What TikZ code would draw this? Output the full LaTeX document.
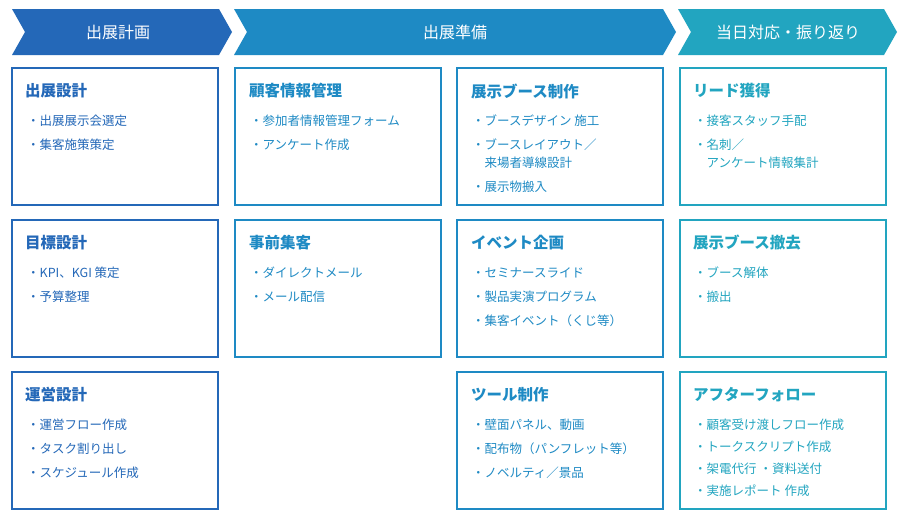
\documentclass[tikz,border=0pt]{standalone}
\usepackage{fontspec}
\setmainfont{Noto Sans CJK JP}
\begin{document}
\begin{tikzpicture}[x=1pt,y=-1pt,
  box/.style={draw=#1,line width=1.6pt},
  ttl/.style={anchor=west,text=#1,font=\bfseries\fontsize{15.5}{18}\selectfont,inner sep=0},
  itm/.style={anchor=west,text=#1,font=\fontsize{12.5}{15}\selectfont,inner sep=0},
  hd/.style={text=white,font=\fontsize{16}{19}\selectfont}]
\definecolor{ca}{HTML}{2468B8}
\definecolor{cb}{HTML}{1E8AC4}
\definecolor{cc}{HTML}{22A5C0}
\useasboundingbox[fill=white] (0,0) rectangle (900,522);
% headers
\fill[ca] (12,9) -- (219,9) -- (232,32) -- (219,55) -- (12,55) -- (25,32) -- cycle;
\fill[cb] (234,9) -- (663,9) -- (676,32) -- (663,55) -- (234,55) -- (247,32) -- cycle;
\fill[cc] (678,9) -- (884,9) -- (897,32) -- (884,55) -- (678,55) -- (691,32) -- cycle;
\node[hd] (h1) at (118,32) {出展計画};
\node[hd] (h2) at (455,32) {出展準備};
\node[hd] (h3) at (788,32) {当日対応・振り返り};
% boxes
\foreach \x/\c in {12/ca,235/cb,457/cb,680/cc}{
  \foreach \y in {68,220}{\draw[box=\c] (\x,\y) rectangle ++(206,137);}}
\foreach \x/\c in {12/ca,457/cb,680/cc}{\draw[box=\c] (\x,372) rectangle ++(206,137);}
% col1
\node[ttl=ca] (t11) at (25,91) {出展設計};
\node[itm=ca] at (27,121) {・出展展示会選定};
\node[itm=ca] at (27,145) {・集客施策策定};
\node[ttl=ca] (t12) at (25,243) {目標設計};
\node[itm=ca] at (27,273) {・KPI、KGI 策定};
\node[itm=ca] at (27,297) {・予算整理};
\node[ttl=ca] (t13) at (25,395) {運営設計};
\node[itm=ca] at (27,425) {・運営フロー作成};
\node[itm=ca] at (27,449) {・タスク割り出し};
\node[itm=ca] at (27,473) {・スケジュール作成};
% col2
\node[ttl=cb] (t21) at (249,91) {顧客情報管理};
\node[itm=cb] at (250,121) {・参加者情報管理フォーム};
\node[itm=cb] at (250,145) {・アンケート作成};
\node[ttl=cb] (t22) at (249,243) {事前集客};
\node[itm=cb] at (250,273) {・ダイレクトメール};
\node[itm=cb] at (250,297) {・メール配信};
% col3
\node[ttl=cb] (t31) at (471,91) {展示ブース制作};
\node[itm=cb] at (472,121) {・ブースデザイン 施工};
\node[itm=cb] at (472,145) {・ブースレイアウト／};
\node[itm=cb] at (472,163) {\phantom{・}来場者導線設計};
\node[itm=cb] at (472,187) {・展示物搬入};
\node[ttl=cb] (t32) at (471,243) {イベント企画};
\node[itm=cb] at (472,273) {・セミナースライド};
\node[itm=cb] at (472,297) {・製品実演プログラム};
\node[itm=cb] at (472,321) {・集客イベント（くじ等）};
\node[ttl=cb] (t33) at (471,395) {ツール制作};
\node[itm=cb] at (472,425) {・壁面パネル、動画};
\node[itm=cb] at (472,449) {・配布物（パンフレット等）};
\node[itm=cb] at (472,473) {・ノベルティ／景品};
% col4
\node[ttl=cc] (t41) at (693,91) {リード獲得};
\node[itm=cc] at (694,121) {・接客スタッフ手配};
\node[itm=cc] at (694,145) {・名刺／};
\node[itm=cc] at (694,163) {\phantom{・}アンケート情報集計};
\node[ttl=cc] (t42) at (693,243) {展示ブース撤去};
\node[itm=cc] at (694,273) {・ブース解体};
\node[itm=cc] at (694,297) {・搬出};
\node[ttl=cc] (t43) at (693,395) {アフターフォロー};
\node[itm=cc] at (694,425) {・顧客受け渡しフロー作成};
\node[itm=cc] at (694,447) {・トークスクリプト作成};
\node[itm=cc] at (694,469) {・架電代行 ・資料送付};
\node[itm=cc] at (694,491) {・実施レポート 作成};
\end{tikzpicture}
\end{document}
